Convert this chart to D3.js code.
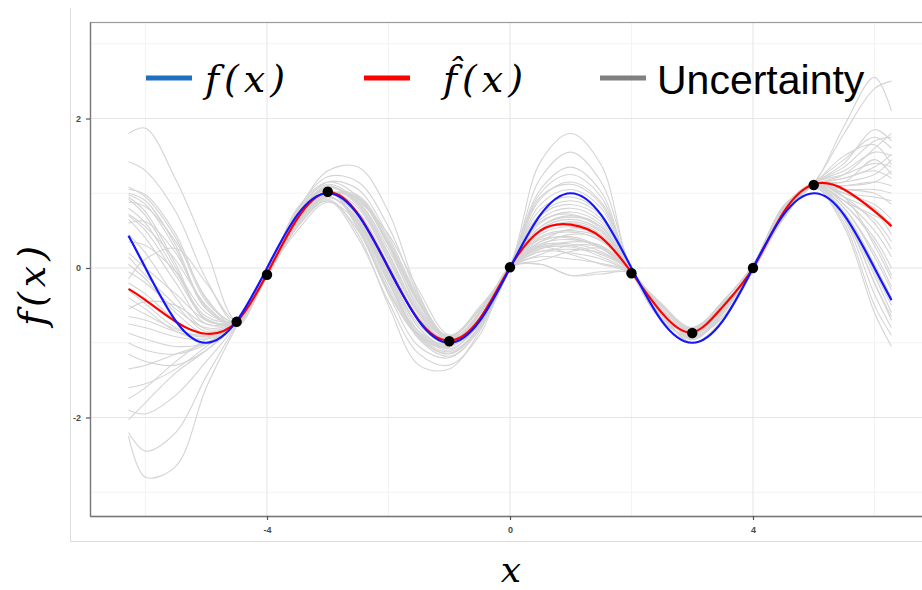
<!DOCTYPE html>
<html>
<head>
<meta charset="utf-8">
<script src="https://cdn.jsdelivr.net/npm/d3@7"></script>
<style>
  html, body { margin: 0; padding: 0; background: #fff; }
  svg { display: block; }
</style>
</head>
<body>
<svg id="chart" width="922" height="590"></svg>
<script>
// Input grid shared by every curve (from -2π to 2π)
const xGrid = [-6.28, -6, -5.5, -5, -4.5, -4, -3.5, -3, -2.5, -2, -1.5, -1, -0.5, 0,
               0.5, 1, 1.5, 2, 2.5, 3, 3.5, 4, 4.5, 5, 5.5, 6, 6.28];

// True function f(x)
const trueF = [0.43, 0.00, -0.71, -1.00, -0.71, 0.00, 0.71, 1.00, 0.71, 0.00, -0.71, -1.00, -0.71, 0.00,
               0.71, 1.00, 0.71, 0.00, -0.71, -1.00, -0.71, 0.00, 0.71, 1.00, 0.71, 0.00, -0.43];

// Posterior mean f-hat(x)
const meanF = [-0.28, -0.43, -0.72, -0.88, -0.72, -0.08, 0.66, 1.01, 0.72, 0.00, -0.70, -0.97, -0.68, 0.01,
               0.50, 0.58, 0.41, -0.06, -0.60, -0.86, -0.52, 0.00, 0.74, 1.12, 1.05, 0.76, 0.56];

// Noisy observations
const obsX = [-4.5, -4, -3, -1, 0, 2, 3, 4, 5];
const obsY = [-0.72, -0.09, 1.02, -0.98, 0.01, -0.07, -0.87, 0.00, 1.11];

// Posterior draws (uncertainty), one row per draw on xGrid
const posteriorDraws = [
  [1.80,1.87,1.18,0.25,-0.70,-0.10,0.64,1.00,0.74,0.02,-0.68,-0.97,-0.66,0.02,0.35,0.42,0.27,-0.08,-0.60,-0.86,-0.55,0.00,0.74,1.11,0.80,0.20,-0.25],
  [1.42,1.30,0.75,-0.15,-0.74,-0.06,0.60,0.98,0.95,0.35,-0.45,-0.95,-0.75,0.00,1.00,1.25,0.95,-0.04,-0.50,-0.82,-0.45,0.04,0.82,1.14,1.30,1.55,1.50],
  [1.08,0.95,0.40,-0.45,-0.72,-0.10,0.72,1.05,0.55,-0.30,-0.90,-1.05,-0.60,0.01,0.60,0.75,0.58,-0.07,-0.55,-0.95,-0.60,0.02,0.78,1.12,1.90,2.55,2.10],
  [1.00,0.90,0.30,-0.55,-0.75,-0.09,0.68,1.02,0.60,-0.20,-0.85,-1.02,-0.62,-0.01,0.28,0.30,0.18,-0.05,-0.68,-0.80,-0.48,-0.02,0.70,1.10,1.05,1.00,0.85],
  [0.95,0.75,0.05,-0.70,-0.70,-0.05,0.72,1.10,0.85,0.15,-0.60,-0.92,-0.55,0.03,1.42,1.80,1.38,-0.02,-0.48,-0.80,-0.50,0.03,0.80,1.13,0.95,0.75,0.45],
  [0.88,0.82,0.35,-0.40,-0.78,-0.07,0.65,1.00,0.75,0.05,-0.66,-0.96,-0.66,0.02,0.45,0.55,0.40,-0.06,-0.70,-0.92,-0.66,-0.04,0.66,1.08,0.60,-0.50,-0.90],
  [0.80,0.60,-0.05,-0.65,-0.70,-0.10,0.62,0.95,0.62,-0.15,-0.92,-1.15,-0.80,-0.02,0.22,0.20,0.12,-0.08,-0.62,-0.88,-0.57,0.01,0.75,1.10,1.10,1.15,1.30],
  [0.72,0.55,0.10,-0.50,-0.76,-0.05,0.63,1.00,0.92,0.30,-0.48,-0.93,-0.72,0.01,0.78,0.95,0.72,-0.05,-0.62,-1.00,-0.70,-0.03,0.72,1.13,0.70,-0.10,-0.60],
  [0.65,0.40,-0.20,-0.75,-0.70,-0.08,0.67,1.01,0.88,0.25,-0.52,-0.95,-0.72,0.00,0.32,0.38,0.28,-0.07,-0.50,-0.82,-0.45,0.04,0.82,1.14,1.35,1.70,1.75],
  [0.60,0.62,0.20,-0.55,-0.73,-0.11,0.70,1.04,0.58,-0.25,-0.88,-1.03,-0.62,0.02,0.52,0.65,0.50,-0.06,-0.68,-0.80,-0.48,-0.02,0.70,1.10,0.90,0.50,0.15],
  [-0.15,0.12,0.26,-0.20,-0.70,-0.07,0.66,1.00,0.73,0.03,-0.69,-0.97,-0.69,0.01,0.15,0.12,0.06,-0.06,-0.57,-0.93,-0.58,0.02,0.77,1.12,1.10,1.15,1.10],
  [0.20,0.00,-0.35,-0.70,-0.72,-0.05,0.73,1.09,0.86,0.18,-0.58,-0.92,-0.52,0.03,1.20,1.55,1.15,-0.03,-0.70,-0.92,-0.66,-0.04,0.66,1.08,0.55,-0.60,-1.05],
  [-0.05,-0.20,-0.55,-0.80,-0.71,-0.08,0.80,1.15,0.95,0.30,-0.55,-0.90,-0.55,0.00,0.40,0.48,0.36,-0.06,-0.60,-0.86,-0.55,0.00,0.74,1.11,1.15,1.25,1.45],
  [-0.40,-0.55,-0.85,-0.95,-0.74,-0.09,0.63,0.96,0.60,-0.18,-0.95,-1.18,-0.82,-0.01,0.26,0.28,0.15,-0.07,-0.62,-1.00,-0.70,-0.03,0.72,1.13,1.00,0.80,0.55],
  [-0.55,-0.45,-0.50,-0.75,-0.72,-0.06,0.61,0.99,0.97,0.38,-0.43,-0.94,-0.74,0.02,0.70,0.85,0.66,-0.05,-0.52,-0.84,-0.46,0.04,0.83,1.14,1.80,2.40,2.50],
  [-0.87,-0.95,-1.05,-1.00,-0.74,-0.08,0.65,1.00,0.72,0.01,-0.69,-0.98,-0.68,0.01,0.05,-0.10,-0.08,-0.07,-0.68,-0.80,-0.48,-0.02,0.70,1.10,0.75,0.05,-0.40],
  [-1.15,-1.25,-1.30,-1.10,-0.73,-0.10,0.72,1.05,0.55,-0.30,-0.90,-1.05,-0.60,0.02,0.85,1.05,0.80,-0.05,-0.58,-0.85,-0.53,0.01,0.75,1.11,1.20,1.30,1.20],
  [-1.60,-1.55,-1.35,-1.05,-0.72,-0.07,0.67,1.02,0.74,0.02,-0.70,-0.96,-0.67,0.01,0.30,0.45,0.38,-0.06,-0.55,-0.95,-0.60,0.02,0.78,1.12,0.85,0.35,-0.10],
  [-1.90,-1.95,-1.70,-1.25,-0.75,-0.05,0.75,1.30,1.35,0.75,-0.35,-1.00,-0.70,0.00,0.50,0.60,0.45,-0.06,-0.50,-0.82,-0.45,0.04,0.82,1.14,1.45,1.75,1.60],
  [-2.03,-1.80,-1.40,-1.10,-0.72,-0.12,0.55,0.92,0.45,-0.50,-1.30,-1.35,-0.85,-0.02,0.25,0.35,0.30,-0.07,-0.70,-0.92,-0.66,-0.04,0.66,1.08,0.68,-0.20,-0.70],
  [-2.20,-2.45,-2.20,-1.45,-0.76,-0.08,0.55,0.90,0.50,-0.35,-1.05,-1.20,-0.82,0.01,0.65,0.80,0.62,-0.06,-0.60,-0.86,-0.55,0.00,0.74,1.11,1.00,0.95,0.90],
  [-2.25,-2.80,-2.65,-1.60,-0.78,-0.04,0.62,0.97,0.93,0.32,-0.47,-0.96,-0.77,0.00,0.05,-0.10,-0.05,-0.08,-0.62,-1.00,-0.70,-0.03,0.72,1.13,0.85,0.40,0.00],
  [0.35,0.30,-0.05,-0.60,-0.71,-0.10,0.62,0.95,0.64,-0.12,-0.90,-1.12,-0.78,0.02,1.05,1.35,1.02,-0.04,-0.50,-0.82,-0.45,0.04,0.82,1.14,1.25,1.40,1.35],
  [-0.50,-0.62,-0.82,-0.90,-0.72,-0.08,0.66,1.01,0.72,0.00,-0.70,-0.97,-0.68,-0.01,0.22,0.25,0.20,-0.06,-0.68,-0.80,-0.48,-0.02,0.70,1.10,0.72,-0.05,-0.50],
  [-0.30,-0.48,-0.80,-0.92,-0.73,-0.11,0.71,1.04,0.52,-0.33,-0.92,-1.06,-0.58,0.00,0.55,0.70,0.55,-0.06,-0.55,-0.95,-0.60,0.02,0.78,1.12,1.00,0.85,0.65],
  [0.05,-0.15,-0.60,-0.88,-0.71,-0.05,0.71,1.08,0.83,0.12,-0.62,-0.93,-0.56,0.02,0.38,0.40,0.26,-0.06,-0.60,-0.86,-0.55,0.00,0.74,1.11,1.05,1.05,1.00],
  [-0.75,-0.80,-0.92,-0.95,-0.72,-0.07,0.50,0.88,0.60,-0.05,-0.80,-1.08,-0.75,0.01,0.92,1.15,0.88,-0.05,-0.70,-0.92,-0.66,-0.04,0.66,1.08,0.65,-0.35,-0.80],
  [0.45,0.20,-0.40,-0.82,-0.72,-0.10,0.63,0.96,0.61,-0.17,-0.93,-1.14,-0.79,0.00,0.42,0.50,0.40,-0.07,-0.62,-1.00,-0.70,-0.03,0.72,1.13,0.95,0.60,0.25],
  [-1.35,-1.30,-1.15,-1.00,-0.73,-0.06,0.59,0.97,0.94,0.33,-0.46,-0.95,-0.76,-0.01,0.30,0.32,0.22,-0.06,-0.68,-0.80,-0.48,-0.02,0.70,1.10,1.20,1.35,1.52],
  [0.92,0.70,0.00,-0.70,-0.71,-0.09,0.78,1.12,0.90,0.45,-0.30,-0.90,-0.78,0.01,0.72,0.90,0.70,-0.06,-0.55,-0.95,-0.60,0.02,0.78,1.12,0.90,0.65,0.35],
  [0.70,0.50,-0.10,-0.68,-0.72,-0.06,0.78,1.22,1.15,0.55,-0.38,-0.98,-0.74,0.01,0.62,0.72,0.52,-0.06,-0.58,-0.90,-0.55,0.01,0.76,1.12,1.50,1.65,1.38],
  [-1.00,-1.10,-1.15,-1.02,-0.73,-0.10,0.55,0.90,0.40,-0.45,-1.15,-1.30,-0.90,-0.02,0.18,0.30,0.28,-0.07,-0.66,-0.96,-0.62,-0.01,0.70,1.10,0.80,0.15,-0.30],
  [0.98,0.85,0.25,-0.52,-0.74,-0.07,0.70,1.08,0.88,0.20,-0.58,-0.95,-0.60,0.01,0.95,1.12,0.85,-0.04,-0.58,-0.88,-0.52,0.02,0.80,1.13,1.40,1.85,1.70],
  [-1.75,-1.60,-1.25,-0.95,-0.71,-0.06,0.68,1.02,0.80,0.10,-0.62,-1.00,-0.72,0.00,0.35,0.52,0.44,-0.06,-0.62,-0.84,-0.50,0.01,0.72,1.11,0.70,-0.20,-0.65],
  [0.15,-0.10,-0.50,-0.85,-0.72,-0.09,0.58,0.94,0.66,-0.10,-0.85,-1.10,-0.70,0.00,0.28,0.18,0.05,-0.08,-0.64,-0.90,-0.58,0.00,0.73,1.11,1.15,1.45,1.25],
  [-0.65,-0.70,-0.85,-0.92,-0.73,-0.08,0.74,1.15,1.05,0.42,-0.40,-0.92,-0.66,0.02,0.55,0.68,0.55,-0.05,-0.55,-0.84,-0.52,0.02,0.76,1.12,0.95,0.30,-0.15],
  [1.05,0.98,0.45,-0.42,-0.73,-0.08,0.64,0.99,0.70,-0.05,-0.76,-1.02,-0.70,0.01,0.48,0.62,0.48,-0.06,-0.60,-0.86,-0.54,0.00,0.74,1.11,1.25,1.60,1.80],
  [-0.20,-0.35,-0.70,-0.90,-0.72,-0.07,0.65,1.00,0.68,-0.08,-0.80,-1.05,-0.72,0.01,0.10,0.22,0.26,-0.05,-0.60,-0.88,-0.55,0.00,0.74,1.11,0.90,0.70,0.60]
];

// Axis ticks and grid positions
const xTicks = [-4, 0, 4];
const yTicks = [-2, 0, 2];
const xMinor = [-6, -2, 2, 6];
const yMinor = [-3, -1, 1, 3];

// Legend entries
const legendKeys = ["truth", "mean", "band"];
const legendText = ["f(x)", "f\u0302(x)", "Uncertainty"];
const legendColors = ["#1f70c1", "#ff0000", "#808080"];

// ---------------------------------------------------------------------------
const svg = d3.select("#chart");
const panel = { left: 90, top: 22, right: 930, bottom: 516 };

const x = d3.scaleLinear().domain([-6.914, 6.914]).range([panel.left, panel.right]);
const y = d3.scaleLinear().domain([-3.318, 3.291]).range([panel.bottom, panel.top]);

// outer frame lines
svg.append("line").attr("x1", 70.5).attr("x2", 70.5).attr("y1", 8).attr("y2", 541.5)
  .attr("stroke", "#dcdcdc").attr("stroke-width", 1);
svg.append("line").attr("x1", 70).attr("x2", 922).attr("y1", 541.5).attr("y2", 541.5)
  .attr("stroke", "#dcdcdc").attr("stroke-width", 1);

// panel grid
const grid = svg.append("g");
grid.selectAll(".vminor").data(xMinor).join("line")
  .attr("x1", d => x(d)).attr("x2", d => x(d)).attr("y1", panel.top).attr("y2", panel.bottom)
  .attr("stroke", "#f3f3f3").attr("stroke-width", 1);
grid.selectAll(".hminor").data(yMinor).join("line")
  .attr("x1", panel.left).attr("x2", panel.right).attr("y1", d => y(d)).attr("y2", d => y(d))
  .attr("stroke", "#f3f3f3").attr("stroke-width", 1);
grid.selectAll(".vmajor").data(xTicks).join("line")
  .attr("x1", d => x(d)).attr("x2", d => x(d)).attr("y1", panel.top).attr("y2", panel.bottom)
  .attr("stroke", "#e6e6e6").attr("stroke-width", 1.1);
grid.selectAll(".hmajor").data(yTicks).join("line")
  .attr("x1", panel.left).attr("x2", panel.right).attr("y1", d => y(d)).attr("y2", d => y(d))
  .attr("stroke", "#e6e6e6").attr("stroke-width", 1.1);

// curves
const lineOf = (curve) => d3.line()
  .x((d, i) => x(xGrid[i]))
  .y(d => y(d))
  .curve(curve);

const draws = svg.append("g");
draws.selectAll("path").data(posteriorDraws).join("path")
  .attr("d", lineOf(d3.curveCatmullRom.alpha(0.5)))
  .attr("fill", "none")
  .attr("stroke", "#d4d4d4")
  .attr("stroke-width", 1.1);

svg.append("path").datum(meanF)
  .attr("d", lineOf(d3.curveNatural))
  .attr("fill", "none").attr("stroke", "#ff0000").attr("stroke-width", 2.2);

svg.append("path").datum(trueF)
  .attr("d", lineOf(d3.curveNatural))
  .attr("fill", "none").attr("stroke", "#1414ff").attr("stroke-width", 2.2);

svg.append("g").selectAll("circle").data(obsX).join("circle")
  .attr("cx", d => x(d)).attr("cy", (d, i) => y(obsY[i])).attr("r", 5.2)
  .attr("fill", "#000");

// panel border
svg.append("rect")
  .attr("x", panel.left + 0.5).attr("y", panel.top + 0.5)
  .attr("width", panel.right - panel.left).attr("height", panel.bottom - panel.top)
  .attr("fill", "none").attr("stroke", "#9a9a9a").attr("stroke-width", 1.2);

// axes
const fmt = d => String(d);
const xAxis = svg.append("g").attr("transform", `translate(0,${panel.bottom})`)
  .call(d3.axisBottom(x).tickValues(xTicks).tickFormat(fmt).tickSize(4).tickSizeOuter(0).tickPadding(7));
const yAxis = svg.append("g").attr("transform", `translate(${panel.left},0)`)
  .call(d3.axisLeft(y).tickValues(yTicks).tickFormat(fmt).tickSize(4).tickSizeOuter(0).tickPadding(5));
[xAxis, yAxis].forEach(g => {
  g.select(".domain").attr("stroke", "#777").attr("stroke-width", 1.3);
  g.selectAll(".tick line").attr("stroke", "#555").attr("stroke-width", 1.2);
  g.selectAll(".tick text")
    .attr("fill", "#4a4a4a")
    .style("font-family", "'Liberation Sans', Arial, sans-serif")
    .style("font-size", "9px")
    .style("font-weight", "bold");
});

// axis titles
const mathFont = "'DejaVu Serif', 'Liberation Serif', serif";
svg.append("text")
  .attr("x", 511).attr("y", 582)
  .attr("text-anchor", "middle")
  .style("font-family", mathFont).style("font-style", "italic").style("font-size", "36px")
  .text("x");

svg.append("text")
  .attr("transform", "translate(45,286) rotate(-90)")
  .attr("text-anchor", "middle")
  .attr("textLength", 80).attr("lengthAdjust", "spacing")
  .style("font-family", mathFont).style("font-style", "italic").style("font-size", "38px")
  .text("f(x)");

// legend
const legendSwatchX = [146, 364, 600];
const legendTextX = [205, 443, 657];
const legend = svg.append("g");
legend.selectAll("line").data(legendKeys).join("line")
  .attr("x1", (d, i) => legendSwatchX[i]).attr("x2", (d, i) => legendSwatchX[i] + 46)
  .attr("y1", 78).attr("y2", 78)
  .attr("stroke", (d, i) => legendColors[i]).attr("stroke-width", 5);

legend.selectAll("text.lab").data(legendKeys).join("text")
  .attr("class", "lab")
  .attr("x", (d, i) => legendTextX[i])
  .attr("y", (d, i) => i === 2 ? 94 : 92)
  .attr("textLength", (d, i) => i === 2 ? null : 80)
  .attr("lengthAdjust", "spacing")
  .style("font-family", (d, i) => i === 2 ? "'Liberation Sans', Arial, sans-serif" : mathFont)
  .style("font-style", (d, i) => i === 2 ? "normal" : "italic")
  .style("font-size", (d, i) => i === 2 ? "41px" : "38px")
  .attr("fill", "#000")
  .text((d, i) => legendText[i]);
</script>
</body>
</html>
